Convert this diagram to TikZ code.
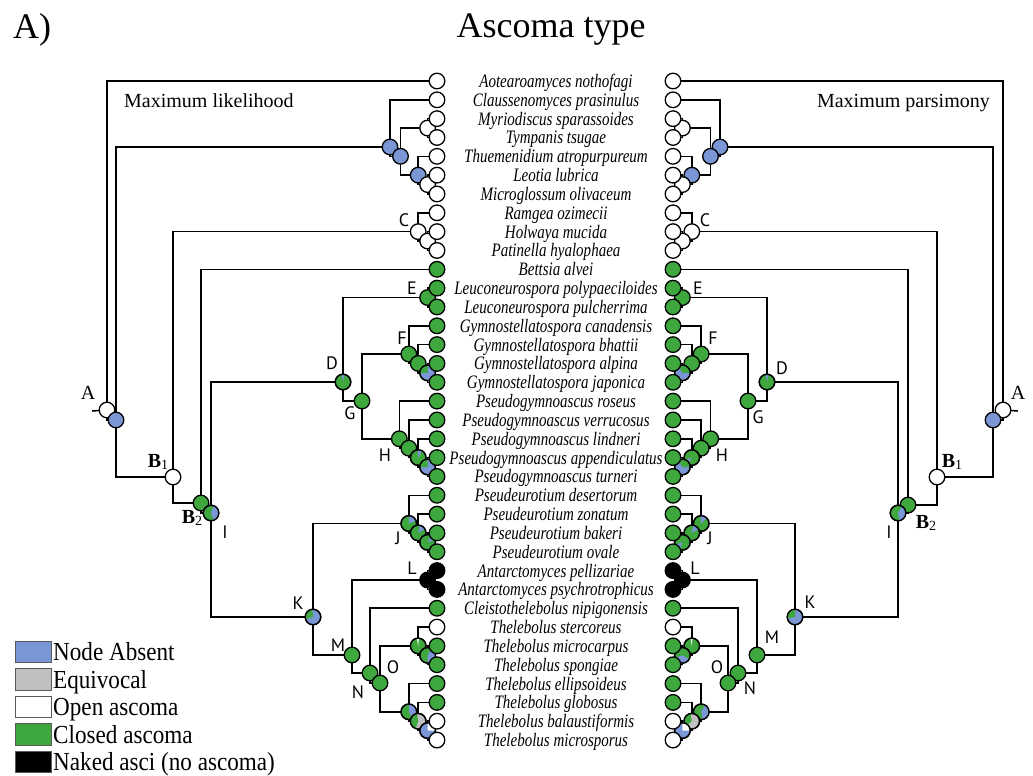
\documentclass[tikz,border=0pt]{standalone}
\usepackage{fontspec}
\setmainfont{Liberation Serif}
\newfontfamily\taxfont[FakeStretch=0.79]{Liberation Serif}
\newfontfamily\legfont[FakeStretch=0.89]{Liberation Serif}
\newfontfamily\labfont{PT Sans}

\definecolor{absent}{RGB}{122,150,212}
\definecolor{closed}{RGB}{62,168,62}
\definecolor{equiv}{RGB}{192,192,192}

\pgfdeclarelayer{edges}
\pgfsetlayers{edges,main}

\tikzset{
  nd/.style={circle, draw=black, line width=1.3pt, minimum size=15.6pt, inner sep=0pt},
  br/.style={line width=1.5pt, black},
  taxon/.style={font=\taxfont\itshape\fontsize{19}{19}\selectfont, inner sep=0pt, anchor=base},
  lab/.style={font=\labfont\fontsize{18}{18}\selectfont, inner sep=0pt},
  serlab/.style={font=\fontsize{20}{20}\selectfont, inner sep=0pt},
  method/.style={font=\fontsize{20}{20}\selectfont, inner sep=0pt},
  legbox/.style={draw=black!65, line width=0.8pt, minimum width=36pt, minimum height=21.5pt, inner sep=0pt},
  legtext/.style={font=\legfont\fontsize{26}{26}\selectfont, inner sep=0pt, anchor=base west}
}

% solid state node
\newcommand\sn[4]{\node[nd, fill=#4] (#1) at (#2,#3) {};}
% node with a second state drawn as a pie slice
\newcommand\pn[7]{\node[nd, fill=#4] (#1) at (#2,#3) {};
  \fill[#5] (#1.center) -- ++(#6:7.8pt) arc[start angle=#6, end angle=#7, radius=7.8pt] -- cycle;
  \draw[line width=1.3pt] (#1.center) circle[radius=7.8pt];}
\newcommand\blab[1]{{\bfseries B}\raisebox{-2pt}{\fontsize{14}{14}\selectfont #1}}

\begin{document}
\begin{tikzpicture}[x=1pt, y=-1pt]
\useasboundingbox (0,0) rectangle (1033,776);

% headings
\node[anchor=base west, inner sep=0pt, font=\fontsize{36}{36}\selectfont] (panel) at (13,39) {A)};
\node[anchor=base, inner sep=0pt, font=\fontsize{36}{36}\selectfont] (title) at (551,38) {Ascoma type};
\node[method, anchor=base west] (ml) at (124,107) {Maximum likelihood};
\node[method, anchor=base east] (mp) at (990,107) {Maximum parsimony};

% ---------- maximum likelihood tree (left) ----------
\sn{LAw}{107}{410}{white}
\sn{LAb}{116}{420}{absent}
\sn{LX1}{390}{147}{absent}
\sn{LX2}{400.5}{156.3}{absent}
\sn{Lc23}{427.6}{128.07}{white}
\sn{LX3}{418.2}{175.15}{absent}
\sn{Lc56}{427.6}{184.57}{white}
\sn{LB1}{173}{477}{white}
\sn{LC}{418.2}{231.64}{white}
\sn{Lc89}{427.6}{241.06}{white}
\sn{LB2}{201}{503}{closed}
\pn{LI}{211}{513}{closed}{absent}{-70}{70}
\pn{LD}{343}{382}{closed}{absent}{80}{100}
\sn{LE}{427.6}{297.55}{closed}
\sn{LG}{362}{401}{closed}
\sn{LF}{408.8}{354.04}{closed}
\sn{Lf14}{418.2}{363.45}{closed}
\pn{Lc1516}{427.6}{372.87}{absent}{closed}{90}{180}
\sn{LH}{399.3}{438.77}{closed}
\sn{Lh18}{408.8}{448.18}{closed}
\pn{Lh19}{418.2}{457.6}{closed}{absent}{60}{90}
\pn{Lc2021}{427.6}{467.0}{absent}{closed}{90}{180}
\pn{LK}{313}{617}{absent}{closed}{95}{195}
\pn{LJ}{408.8}{523.5}{closed}{absent}{20}{90}
\pn{Lj23}{418.2}{532.92}{closed}{absent}{30}{80}
\pn{Lc2425}{427.6}{542.33}{closed}{absent}{20}{60}
\sn{LM}{352}{655}{closed}
\sn{LL}{427.6}{580}{black}
\sn{LN}{370}{673}{closed}
\sn{LO}{380}{683}{closed}
\pn{Lg29}{418.2}{645.9}{closed}{white}{85}{100}
\pn{Lc3031}{427.6}{655.3}{closed}{absent}{-90}{60}
\pn{Lg32}{408.8}{711.8}{closed}{absent}{-60}{90}
\pn{Lg33}{418.2}{721.2}{equiv}{closed}{100}{250}
\pn{Lc3435}{427.6}{730.6}{absent}{white}{0}{90}

% ---------- maximum parsimony tree (right) ----------
\sn{RAw}{1003}{410}{white}
\sn{RAb}{993}{420}{absent}
\sn{RX1}{720}{147}{absent}
\sn{RX2}{710.5}{156.3}{absent}
\sn{Rc23}{682.4}{128.07}{white}
\sn{RX3}{691.8}{175.15}{absent}
\sn{Rc56}{682.4}{184.57}{white}
\sn{RB1}{937}{477}{white}
\sn{RC}{691.8}{231.64}{white}
\sn{Rc89}{682.4}{241.06}{white}
\sn{RB2}{908}{505}{closed}
\pn{RI}{898}{513}{closed}{absent}{-80}{60}
\pn{RD}{767}{382}{closed}{absent}{80}{100}
\sn{RE}{682.4}{297.55}{closed}
\sn{RG}{748}{401}{closed}
\sn{RF}{701.2}{354.04}{closed}
\sn{Rf14}{691.8}{363.45}{closed}
\pn{Rc1516}{682.4}{372.87}{absent}{closed}{0}{120}
\sn{RH}{710.7}{438.77}{closed}
\sn{Rh18}{701.2}{448.18}{closed}
\pn{Rh19}{691.8}{457.6}{closed}{absent}{200}{240}
\pn{Rc2021}{682.4}{467.0}{absent}{closed}{0}{120}
\pn{RK}{795}{617}{absent}{closed}{90}{190}
\pn{RJ}{701.2}{523.5}{closed}{absent}{45}{95}
\pn{Rj23}{691.8}{532.92}{closed}{absent}{30}{80}
\pn{Rc2425}{682.4}{542.33}{closed}{absent}{200}{250}
\sn{RM}{757}{655}{closed}
\sn{RL}{682.4}{580}{black}
\sn{RN}{738}{673}{closed}
\sn{RO}{728}{683}{closed}
\pn{Rg29}{691.8}{645.9}{closed}{white}{85}{100}
\pn{Rc3031}{682.4}{655.3}{closed}{absent}{200}{330}
\pn{Rg32}{701.2}{711.8}{closed}{absent}{-80}{60}
\pn{Rg33}{691.8}{721.2}{equiv}{closed}{100}{220}
\pn{Rc3435}{682.4}{730.6}{absent}{white}{0}{90}

% tips and taxon names
\foreach \i/\c/\t in {
  0/white/Aotearoamyces nothofagi,
  1/white/Claussenomyces prasinulus,
  2/white/Myriodiscus sparassoides,
  3/white/Tympanis tsugae,
  4/white/Thuemenidium atropurpureum,
  5/white/Leotia lubrica,
  6/white/Microglossum olivaceum,
  7/white/Ramgea ozimecii,
  8/white/Holwaya mucida,
  9/white/Patinella hyalophaea,
  10/closed/Bettsia alvei,
  11/closed/Leuconeurospora polypaeciloides,
  12/closed/Leuconeurospora pulcherrima,
  13/closed/Gymnostellatospora canadensis,
  14/closed/Gymnostellatospora bhattii,
  15/closed/Gymnostellatospora alpina,
  16/closed/Gymnostellatospora japonica,
  17/closed/Pseudogymnoascus roseus,
  18/closed/Pseudogymnoascus verrucosus,
  19/closed/Pseudogymnoascus lindneri,
  20/closed/Pseudogymnoascus appendiculatus,
  21/closed/Pseudogymnoascus turneri,
  22/closed/Pseudeurotium desertorum,
  23/closed/Pseudeurotium zonatum,
  24/closed/Pseudeurotium bakeri,
  25/closed/Pseudeurotium ovale,
  26/black/Antarctomyces pellizariae,
  27/black/Antarctomyces psychrotrophicus,
  28/closed/Cleistothelebolus nipigonensis,
  29/white/Thelebolus stercoreus,
  30/closed/Thelebolus microcarpus,
  31/closed/Thelebolus spongiae,
  32/closed/Thelebolus ellipsoideus,
  33/closed/Thelebolus globosus,
  34/white/Thelebolus balaustiformis,
  35/white/Thelebolus microsporus}{
  \node[nd, fill=\c] (Lt\i) at (437,{81+18.83*\i}) {};
  \node[nd, fill=\c] (Rt\i) at (673,{81+18.83*\i}) {};
  \node[taxon] (name\i) at (556,{87.5+18.83*\i}) {\t};
}

% root stubs
\coordinate (Lroot) at (92,411);
\coordinate (Rroot) at (1018,411);

% branches
\begin{pgfonlayer}{edges}
\draw[br] (Lroot) -- (LAw.center);
\draw[br] (Rroot) -- (RAw.center);
\foreach \s in {L,R}{
  \foreach \a/\b in {Aw/t0, Aw/Ab, Ab/X1, Ab/B1, X1/t1, X1/X2, X2/c23, X2/X3,
      c23/t2, c23/t3, X3/t4, X3/c56, c56/t5, c56/t6, B1/C, B1/B2, C/t7, C/c89,
      c89/t8, c89/t9, B2/t10, B2/I, I/D, I/K, D/E, D/G, E/t11, E/t12, G/F, G/H,
      F/t13, F/f14, f14/t14, f14/c1516, c1516/t15, c1516/t16, H/t17, H/h18,
      h18/t18, h18/h19, h19/t19, h19/c2021, c2021/t20, c2021/t21, K/J, K/M,
      J/t22, J/j23, j23/t23, j23/c2425, c2425/t24, c2425/t25, M/L, M/N,
      L/t26, L/t27, N/t28, N/O, O/g29, O/g32, g29/t29, g29/c3031,
      c3031/t30, c3031/t31, g32/t32, g32/g33, g33/t33, g33/c3435,
      c3435/t34, c3435/t35}{
    \draw[br] (\s\a.center) |- (\s\b.center);
  }
}
\end{pgfonlayer}

% clade labels
\node[serlab] (LlA) at (88,393) {A};
\node[serlab] (RlA) at (1018,393) {A};
\node[serlab] (LlB1) at (158,462) {\blab{1}};
\node[serlab] (LlB2) at (192,518) {\blab{2}};
\node[serlab] (RlB1) at (952,462) {\blab{1}};
\node[serlab] (RlB2) at (926,523) {\blab{2}};
\foreach \n/\x/\y in {C/404/220, E/412/288, F/402/338, D/332/363, G/350/413,
    H/385/455, I/225/532, J/398/538, K/298/603, L/412/568, M/338/645,
    N/358/692, O/393/667}{
  \node[lab] (Ll\n) at (\x,\y) {\n};
}
\foreach \n/\x/\y in {C/705/220, E/698/288, F/713/338, D/782/368, G/758/417,
    H/722/455, I/889/532, J/710/538, K/810/602, L/695/568, M/772/637,
    N/750/688, O/717/667}{
  \node[lab] (Rl\n) at (\x,\y) {\n};
}

% legend
\foreach \i/\c/\t in {0/absent/Node Absent, 1/equiv/Equivocal, 2/white/Open ascoma,
    3/closed/Closed ascoma, 4/black/Naked asci (no ascoma)}{
  \node[legbox, fill=\c] (key\i) at (33,{652+27.5*\i}) {};
  \node[legtext] (keytext\i) at (53,{660.5+27.5*\i}) {\t};
}
\end{tikzpicture}
\end{document}
